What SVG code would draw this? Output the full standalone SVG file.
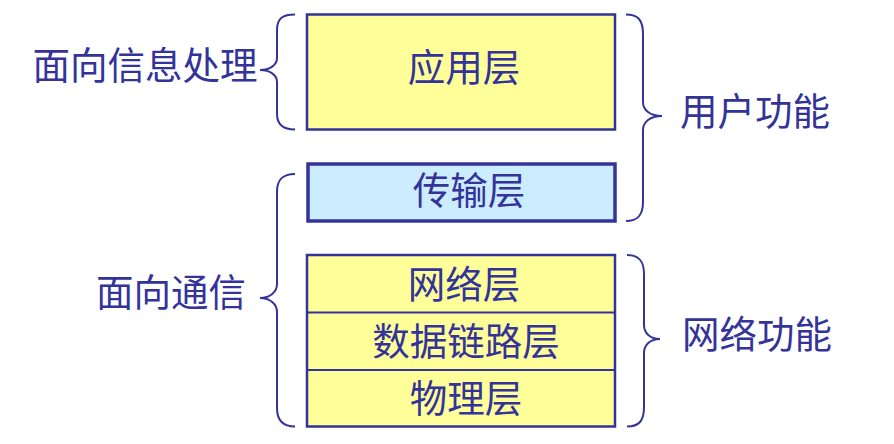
<svg xmlns="http://www.w3.org/2000/svg" width="894" height="444" viewBox="0 0 894 444">
<style>
text{font-family:"Noto Sans CJK SC","Noto Sans",sans-serif;font-size:37.5px;fill:#333399;text-anchor:middle}
.box{stroke:#333399;stroke-width:2.5}
.y{fill:#FFFF99}
.b{fill:#CCECFF;stroke-width:3.5}
.brace{fill:none;stroke:#333399;stroke-width:2}
.div{stroke:#333399;stroke-width:2}
</style>
<rect width="894" height="444" fill="#fff"/>
<g id="app"><rect class="box y" x="307" y="14.5" width="308" height="115"/><text x="464" y="81">应用层</text></g>
<g id="transport"><rect class="box b" x="308" y="164" width="307" height="57"/><text x="469" y="204">传输层</text></g>
<g id="lower">
<rect class="box y" x="307" y="255" width="308" height="171.5"/>
<line class="div" x1="307" y1="312.5" x2="615" y2="312.5"/>
<line class="div" x1="307" y1="370" x2="615" y2="370"/>
</g>
<g id="network"><text x="464" y="298">网络层</text></g>
<g id="datalink"><text x="466" y="355">数据链路层</text></g>
<g id="physical"><text x="466" y="412">物理层</text></g>
<g id="labels">
<text x="145" y="79">面向信息处理</text>
<text x="171" y="306">面向通信</text>
<text x="755" y="125">用户功能</text>
<text x="757" y="348">网络功能</text>
</g>
<g id="connectors">
<path class="brace" d="M295,14.5 C283,14.5 277,18 277,30 L277,58 C277,65 270,70 260,70 C270,70 277,75 277,82 L277,114 C277,125 283,129.5 295,129.5"/>
<path class="brace" d="M295,174 C283,174 277,179 277,192 L277,284 C277,292 270,298 260,298 C270,298 277,304 277,312 L277,408 C277,421 283,426.5 295,426.5"/>
<path class="brace" d="M626,14.5 C638,14.5 643,20 643,34 L643,102 C643,110 650,116 662,116 C650,116 643,122 643,130 L643,202 C643,215 638,221 626,221"/>
<path class="brace" d="M627,255 C639,255 644,261 644,274 L644,325 C644,333 650,339 660,339 C650,339 644,345 644,353 L644,407 C644,421 639,426.5 627,426.5"/>
</g>
</svg>
